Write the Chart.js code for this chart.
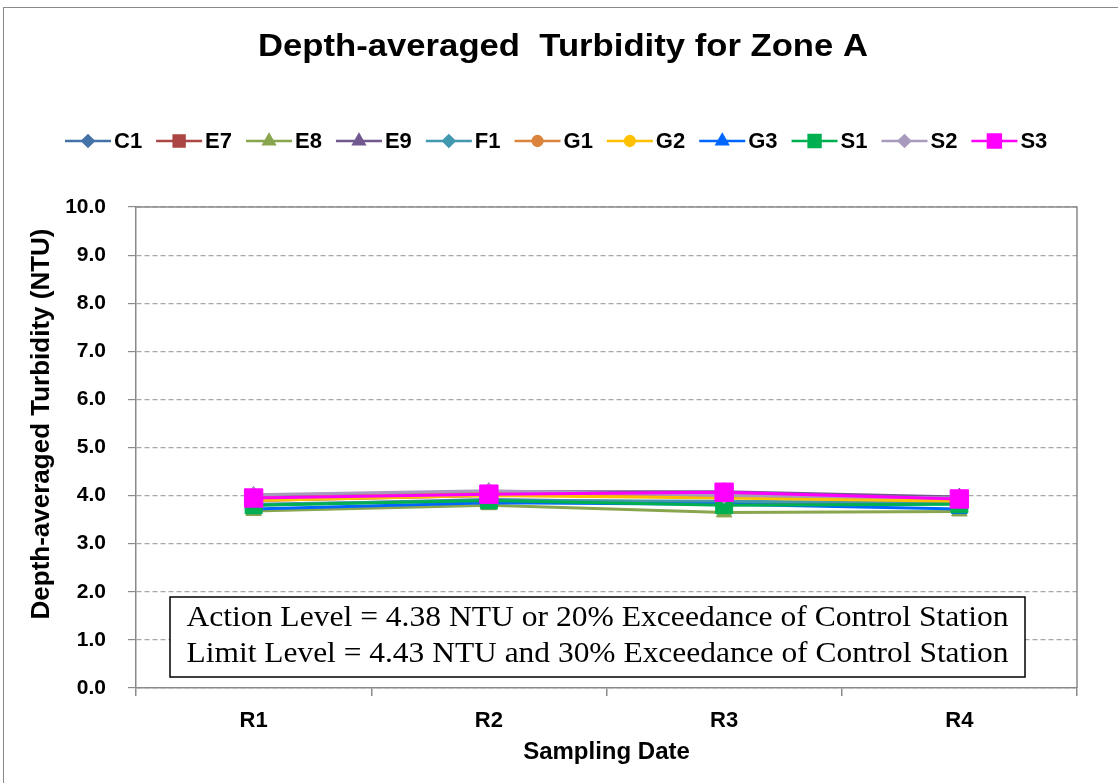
<!DOCTYPE html>
<html>
<head>
<meta charset="utf-8">
<title>Depth-averaged Turbidity for Zone A</title>
<script src="https://cdn.jsdelivr.net/npm/chart.js@4/dist/chart.umd.min.js"></script>
<style>
  html, body { margin: 0; padding: 0; background: #fff; overflow: hidden; }
  #wrap { position: relative; width: 1118px; height: 783px; overflow: hidden; }
  #frame { position: absolute; left: 3px; top: 7px; width: 1130px; height: 790px; border: 1.5px solid #8a8a8a; box-sizing: border-box; }
  canvas { position: absolute; left: 0; top: 0; }
</style>
</head>
<body>
<div id="wrap">
  <div id="frame"></div>
  <canvas id="turbChart" width="1118" height="783"></canvas>
</div>
<script>
// sampling rounds
const dates = ["R1", "R2", "R3", "R4"];
const yTicks = [0, 1, 2, 3, 4, 5, 6, 7, 8, 9, 10];

// depth-averaged turbidity (NTU) per station
const C1 = [3.80, 3.92, 3.85, 3.85];
const E7 = [3.90, 4.00, 4.02, 3.92];
const E8 = [3.68, 3.80, 3.65, 3.67];
const E9 = [4.00, 4.08, 4.08, 3.97];
const F1 = [3.82, 3.90, 3.88, 3.85];
const G1 = [3.95, 4.05, 4.00, 3.90];
const G2 = [3.90, 4.00, 3.95, 3.88];
const G3 = [3.72, 3.85, 3.82, 3.72];
const S1 = [3.80, 3.90, 3.80, 3.82];
const S2 = [4.02, 4.10, 4.00, 3.95];
const S3 = [3.95, 4.03, 4.07, 3.93];

const chartTitle = "Depth-averaged  Turbidity for Zone A";
const yTitle = "Depth-averaged Turbidity (NTU)";
const noteLines = [
  "Action Level = 4.38 NTU or 20% Exceedance of Control Station",
  "Limit Level = 4.43 NTU and 30% Exceedance of Control Station"
];

const series = [
  { label: "C1", data: C1, color: "#4572A7", style: "rectRot", r: 8 },
  { label: "E7", data: E7, color: "#AA4643", style: "rect", r: 11 },
  { label: "E8", data: E8, color: "#89A54E", style: "triangle", r: 9 },
  { label: "E9", data: E9, color: "#71588F", style: "triangle", r: 9 },
  { label: "F1", data: F1, color: "#4198AF", style: "rectRot", r: 8 },
  { label: "G1", data: G1, color: "#DB843D", style: "circle", r: 7 },
  { label: "G2", data: G2, color: "#FFC000", style: "circle", r: 7 },
  { label: "G3", data: G3, color: "#0066FF", style: "triangle", r: 9 },
  { label: "S1", data: S1, color: "#00B050", style: "rect", r: 12 },
  { label: "S2", data: S2, color: "#A99BBD", style: "rectRot", r: 8 },
  { label: "S3", data: S3, color: "#FF00FF", style: "rect", r: 13 }
];

const FONT = "'Liberation Sans', Arial, sans-serif";

// draws text squeezed/stretched to a given width
function fitText(ctx, text, cx, y, width) {
  const w = ctx.measureText(text).width;
  ctx.save();
  ctx.translate(cx, y);
  ctx.scale(width / w, 1);
  ctx.textAlign = "center";
  ctx.fillText(text, 0, 0);
  ctx.restore();
}

// title, y title + Excel style legend (short line with the marker in the middle)
const header = {
  id: "header",
  afterDraw(chart) {
    const ctx = chart.ctx;
    ctx.save();
    ctx.fillStyle = "#000";
    ctx.font = "bold 31px " + FONT;
    ctx.textBaseline = "alphabetic";
    fitText(ctx, chartTitle, 563, 56, 610);

    ctx.save();
    ctx.translate(42, 424);
    ctx.rotate(-Math.PI / 2);
    ctx.font = "bold 26px " + FONT;
    ctx.textAlign = "center";
    ctx.textBaseline = "middle";
    ctx.fillText(yTitle, 0, 0);
    ctx.restore();

    ctx.font = "bold 22px " + FONT;
    ctx.textBaseline = "middle";
    let x = 65;
    const y = 141;
    chart.data.datasets.forEach(ds => {
      ctx.strokeStyle = ds.borderColor;
      ctx.fillStyle = ds.borderColor;
      ctx.lineWidth = 2.5;
      ctx.beginPath();
      ctx.moveTo(x, y);
      ctx.lineTo(x + 46, y);
      ctx.stroke();
      Chart.helpers.drawPoint(ctx, {
        pointStyle: ds.pointStyle,
        radius: ds.pointRadius * 0.7,
        rotation: 0,
        borderWidth: 1
      }, x + 23, y);
      ctx.fillStyle = "#000";
      ctx.fillText(ds.label, x + 49, y + 1);
      x += 49 + ctx.measureText(ds.label).width + 14;
    });
    ctx.restore();
  }
};

// plot area box + text box with the action/limit levels
const plotFrame = {
  id: "plotFrame",
  beforeDatasetsDraw(chart) {
    const a = chart.chartArea;
    const ctx = chart.ctx;
    ctx.save();
    ctx.strokeStyle = "#8a8a8a";
    ctx.lineWidth = 1.5;
    ctx.beginPath();
    ctx.moveTo(a.left, a.top);
    ctx.lineTo(a.right, a.top);
    ctx.lineTo(a.right, a.bottom);
    ctx.stroke();
    ctx.restore();
  },
  afterDatasetsDraw(chart) {
    const ctx = chart.ctx;
    const bx = 170, by = 597, bw = 855, bh = 80;
    ctx.save();
    ctx.fillStyle = "#fff";
    ctx.fillRect(bx, by, bw, bh);
    ctx.strokeStyle = "#000";
    ctx.lineWidth = 1.5;
    ctx.strokeRect(bx, by, bw, bh);
    ctx.fillStyle = "#000";
    ctx.font = "29px 'Liberation Serif', 'Times New Roman', serif";
    ctx.textBaseline = "alphabetic";
    fitText(ctx, noteLines[0], bx + bw / 2, 626, 822);
    fitText(ctx, noteLines[1], bx + bw / 2, 662, 822);
    ctx.restore();
  }
};

const n = series.length;
new Chart(document.getElementById("turbChart"), {
  type: "line",
  data: {
    labels: dates,
    datasets: series.map((s, i) => ({
      label: s.label,
      data: s.data,
      borderColor: s.color,
      backgroundColor: s.color,
      pointBackgroundColor: s.color,
      pointBorderColor: s.color,
      pointStyle: s.style,
      pointRadius: s.r,
      pointBorderWidth: 1,
      borderWidth: 3,
      tension: 0,
      order: n - i
    }))
  },
  options: {
    responsive: false,
    animation: false,
    layout: { padding: { left: 26, right: 41, top: 207, bottom: 16 } },
    plugins: {
      legend: { display: false },
      tooltip: { enabled: false },
      title: { display: false }
    },
    scales: {
      x: {
        offset: true,
        afterFit: s => { s.height = 79; },
        grid: { display: true, drawOnChartArea: false, drawTicks: true, tickLength: 8, offset: true, color: "#8a8a8a", lineWidth: 1.5 },
        border: { color: "#8a8a8a", width: 1.5 },
        ticks: { color: "#000", padding: 12, font: { family: FONT, size: 22, weight: "bold" } },
        title: { display: true, text: "Sampling Date", color: "#000", font: { family: FONT, size: 24, weight: "bold" }, padding: { top: 0, bottom: 0 } }
      },
      y: {
        min: yTicks[0],
        max: yTicks[yTicks.length - 1],
        afterFit: s => { s.width = 110; },
        afterBuildTicks: axis => { axis.ticks = yTicks.map(v => ({ value: v })); },
        grid: { color: "#a6a6a6", lineWidth: 1.2, tickLength: 8, tickColor: "#8a8a8a", tickBorderDash: [] },
        border: { color: "#8a8a8a", width: 1.5, dash: [5, 3] },
        ticks: { color: "#000", padding: 22, font: { family: FONT, size: 21, weight: "bold" }, callback: v => Number(v).toFixed(1) },
        title: { display: false }
      }
    }
  },
  plugins: [header, plotFrame]
});
</script>
</body>
</html>
